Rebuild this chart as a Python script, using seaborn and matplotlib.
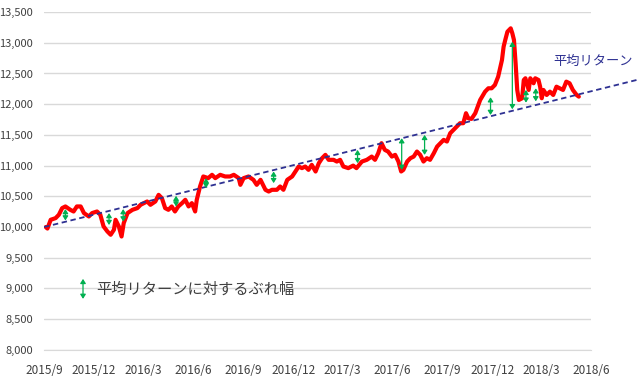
import pandas as pd
import matplotlib
matplotlib.use("Agg")
import matplotlib.pyplot as plt
import seaborn as sns

# index level (roughly weekly)
dates = [
    "2015-09-04", "2015-09-07", "2015-09-13", "2015-09-22", "2015-09-28", "2015-10-04", "2015-10-10",
    "2015-10-19", "2015-10-25", "2015-10-31", "2015-11-07", "2015-11-13", "2015-11-22", "2015-11-28",
    "2015-12-07", "2015-12-13", "2015-12-19", "2015-12-26", "2016-01-01", "2016-01-07", "2016-01-10",
    "2016-01-16", "2016-01-21", "2016-01-25", "2016-02-01", "2016-02-10", "2016-02-19", "2016-02-25",
    "2016-03-08", "2016-03-14", "2016-03-23", "2016-03-29", "2016-04-04", "2016-04-10", "2016-04-16",
    "2016-04-22", "2016-04-28", "2016-05-04", "2016-05-11", "2016-05-17", "2016-05-23", "2016-05-29",
    "2016-06-04", "2016-06-07", "2016-06-13", "2016-06-19", "2016-06-28", "2016-07-05", "2016-07-11",
    "2016-07-20", "2016-07-29", "2016-08-07", "2016-08-14", "2016-08-23", "2016-08-26", "2016-09-01",
    "2016-09-10", "2016-09-19", "2016-09-25", "2016-10-02", "2016-10-11", "2016-10-17", "2016-10-23",
    "2016-11-01", "2016-11-07", "2016-11-13", "2016-11-20", "2016-11-29", "2016-12-05", "2016-12-11",
    "2016-12-17", "2016-12-23", "2016-12-29", "2017-01-04", "2017-01-11", "2017-01-17", "2017-01-23",
    "2017-01-29", "2017-02-04", "2017-02-13", "2017-02-19", "2017-02-25", "2017-03-03", "2017-03-12",
    "2017-03-21", "2017-03-27", "2017-04-06", "2017-04-15", "2017-04-24", "2017-04-30", "2017-05-06",
    "2017-05-12", "2017-05-18", "2017-05-24", "2017-05-31", "2017-06-06", "2017-06-12", "2017-06-17",
    "2017-06-21", "2017-06-28", "2017-07-04", "2017-07-10", "2017-07-16", "2017-07-22", "2017-07-28",
    "2017-08-03", "2017-08-09", "2017-08-16", "2017-08-22", "2017-08-28", "2017-09-03", "2017-09-09",
    "2017-09-15", "2017-09-21", "2017-09-27", "2017-10-03", "2017-10-09", "2017-10-14", "2017-10-18",
    "2017-10-24", "2017-10-31", "2017-11-06", "2017-11-09", "2017-11-18", "2017-11-24", "2017-11-30",
    "2017-12-06", "2017-12-12", "2017-12-19", "2017-12-22", "2017-12-25", "2017-12-29", "2018-01-04",
    "2018-01-07", "2018-01-10", "2018-01-13", "2018-01-16", "2018-01-19", "2018-01-25", "2018-01-28",
    "2018-01-31", "2018-02-06", "2018-02-09", "2018-02-15", "2018-02-18", "2018-02-24", "2018-02-27",
    "2018-03-02", "2018-03-05", "2018-03-11", "2018-03-17", "2018-03-23", "2018-03-29", "2018-04-04",
    "2018-04-10", "2018-04-16", "2018-04-22", "2018-04-28", "2018-05-05", "2018-05-09",
]
values = [
    10000, 9975, 10118, 10145, 10200, 10308, 10335,
    10280, 10253, 10335, 10335, 10227, 10172, 10227,
    10253, 10200, 10010, 9928, 9874, 9955, 10118,
    10010, 9846, 10064, 10227, 10280, 10308, 10362,
    10416, 10362, 10416, 10524, 10470, 10308, 10280,
    10335, 10253, 10335, 10389, 10443, 10335, 10389,
    10253, 10443, 10660, 10823, 10796, 10850, 10796,
    10850, 10823, 10823, 10850, 10796, 10687, 10796,
    10823, 10768, 10687, 10768, 10606, 10578, 10606,
    10606, 10660, 10606, 10768, 10823, 10904, 10985,
    10959, 10985, 10931, 11012, 10904, 11040, 11121,
    11175, 11094, 11094, 11066, 11094, 10985, 10959,
    11000, 10959, 11066, 11094, 11147, 11094, 11203,
    11365, 11256, 11229, 11147, 11175, 11066, 10904,
    10930, 11066, 11121, 11147, 11229, 11175, 11066,
    11121, 11094, 11203, 11310, 11365, 11419, 11392,
    11527, 11581, 11635, 11690, 11690, 11853, 11772,
    11760, 11853, 12000, 12069, 12204, 12259, 12259,
    12313, 12448, 12720, 12936, 13045, 13180, 13235,
    13154, 13045, 12666, 12232, 12069, 12097, 12394,
    12422, 12232, 12422, 12341, 12422, 12394, 12285,
    12097, 12232, 12150, 12204, 12150, 12285, 12259,
    12232, 12367, 12341, 12232, 12150, 12123,
]

# average return line (two end points)
trend_dates = ["2015-09-01", "2018-08-23"]
trend_values = [10000, 12394]

# deviation arrows: date, upper end, lower end
arrow_dates = ["2015-10-10", "2015-12-29", "2016-01-24", "2016-04-30", "2016-06-24",
               "2016-10-26", "2017-03-29", "2017-06-18", "2017-07-30", "2017-11-28",
               "2018-01-07", "2018-02-01", "2018-02-19"]
arrow_top = [10292, 10227, 10292, 10508, 10796, 10904, 11256, 11446, 11500, 12113,
             13017, 12232, 12259]
arrow_bottom = [10107, 10033, 10091, 10335, 10634, 10715, 11040, 10931, 11175, 11825,
                11918, 12025, 12047]

tick_dates = ["2015-09-01", "2015-12-01", "2016-03-01", "2016-06-01", "2016-09-01", "2016-12-01",
              "2017-03-01", "2017-06-01", "2017-09-01", "2017-12-01", "2018-03-01", "2018-06-01"]
tick_labels = ["2015/9", "2015/12", "2016/3", "2016/6", "2016/9", "2016/12",
               "2017/3", "2017/6", "2017/9", "2017/12", "2018/3", "2018/6"]

RED = "#FF0000"
NAVY = "#2E3192"
GREEN = "#00B050"
TEXT = "#404040"
ARROW = "<|-|>,head_length=0.25,head_width=0.16"

sns.set_style("white")
plt.rcParams["font.family"] = ["Noto Sans CJK JP", "DejaVu Sans"]

df = pd.DataFrame({"date": pd.to_datetime(dates), "value": values})

fig = plt.figure(figsize=(6.4, 3.77), dpi=100)
ax = fig.add_axes([0.069, 0.072, 0.855, 0.896])

ax.set_xlim(pd.Timestamp("2015-09-01"), pd.Timestamp("2018-06-01"))
ax.set_ylim(8000, 13500)
ax.set_yticks(range(8000, 13501, 500))
ax.yaxis.set_major_formatter(matplotlib.ticker.FuncFormatter(lambda v, p: f"{int(v):,}"))
ax.grid(axis="y", color="#D9D9D9", linewidth=1)
ax.set_axisbelow(True)

sns.lineplot(data=df, x="date", y="value", ax=ax, color=RED, linewidth=3, zorder=3)

ax.plot(pd.to_datetime(trend_dates), trend_values, color=NAVY, linewidth=1.3,
        linestyle=(0, (3, 2)), clip_on=False, zorder=4)

for d, top, bot in zip(pd.to_datetime(arrow_dates), arrow_top, arrow_bottom):
    ax.annotate("", xy=(d, top), xytext=(d, bot),
                arrowprops=dict(arrowstyle=ARROW, color=GREEN, lw=0.9, shrinkA=0, shrinkB=0),
                zorder=5)

ax.set_xticks(pd.to_datetime(tick_dates))
ax.set_xticklabels(tick_labels)
ax.set_xlabel("")
ax.set_ylabel("")
ax.tick_params(axis="x", colors=TEXT, labelsize=8.5, length=4, width=0.8, color="#D9D9D9", pad=6)
ax.tick_params(axis="y", colors=TEXT, labelsize=8, length=0, pad=8)

for side in ["top", "right", "left"]:
    ax.spines[side].set_visible(False)
ax.spines["bottom"].set_color("#D9D9D9")

ax.text(0.93, 0.855, "平均リターン", transform=ax.transAxes, color=NAVY, fontsize=9.5,
        ha="left", va="center")

# legend for the arrows
ax.annotate("", xy=(0.071, 0.21), xytext=(0.071, 0.151), xycoords="axes fraction",
            arrowprops=dict(arrowstyle=ARROW, color=GREEN, lw=0.9, shrinkA=0, shrinkB=0))
ax.text(0.095, 0.18, "平均リターンに対するぶれ幅", transform=ax.transAxes, color=TEXT,
        fontsize=11, ha="left", va="center")

fig.savefig("out.png", dpi=100)
